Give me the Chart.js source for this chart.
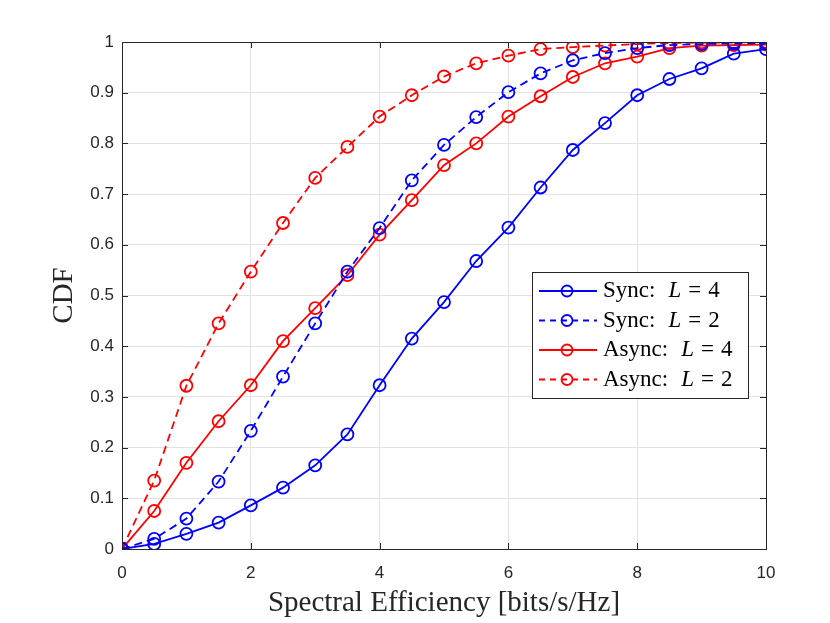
<!DOCTYPE html>
<html lang="en">
<head>
    <meta charset="UTF-8">
    <title>CDF of Spectral Efficiency</title>
    <script src="https://cdn.jsdelivr.net/npm/chart.js"></script>
    <style>
        html, body { margin: 0; padding: 0; background: #fff; }
        #chart { display: block; }
    </style>
</head>
<body>
    <canvas id="chart" width="830" height="623"></canvas>
    <script>
        // x positions (bits/s/Hz)
        const efficiency = [0, 0.5, 1, 1.5, 2, 2.5, 3, 3.5, 4, 4.5, 5, 5.5, 6, 6.5, 7, 7.5, 8, 8.5, 9, 9.5, 10];

        // CDF values
        const syncL4  = [0, 0.010, 0.030, 0.052, 0.086, 0.121, 0.165, 0.226, 0.323, 0.415, 0.487, 0.568, 0.634, 0.713, 0.787, 0.840, 0.895, 0.927, 0.948, 0.977, 0.986];
        const syncL2  = [0, 0.020, 0.060, 0.133, 0.233, 0.340, 0.445, 0.547, 0.633, 0.727, 0.797, 0.852, 0.901, 0.938, 0.964, 0.978, 0.988, 0.994, 0.996, 0.997, 0.998];
        const asyncL4 = [0, 0.075, 0.170, 0.252, 0.323, 0.410, 0.475, 0.540, 0.620, 0.688, 0.757, 0.800, 0.853, 0.893, 0.931, 0.958, 0.971, 0.988, 0.993, 0.994, 0.995];
        const asyncL2 = [0, 0.135, 0.322, 0.445, 0.547, 0.643, 0.732, 0.793, 0.853, 0.895, 0.932, 0.958, 0.973, 0.986, 0.990, 0.993, 0.996, 0.998, 0.999, 0.999, 1.000];

        const seriesNames = ['Sync:', 'Sync:', 'Async:', 'Async:'];
        const seriesL = ['4', '2', '4', '2'];

        const xTicks = [0, 2, 4, 6, 8, 10];
        const yTicks = [0, 0.1, 0.2, 0.3, 0.4, 0.5, 0.6, 0.7, 0.8, 0.9, 1];

        const tickFont = '"Liberation Sans", Arial, sans-serif';
        const serifFont = '"Liberation Serif", "Times New Roman", serif';

        function makeSet(values, color, dashed) {
            return {
                data: values.map((v, i) => ({ x: efficiency[i], y: v })),
                borderColor: color,
                backgroundColor: 'rgba(0,0,0,0)',
                borderWidth: 1.8,
                borderDash: dashed ? [8, 5] : [],
                pointStyle: 'circle',
                pointRadius: 6,
                pointBorderWidth: 1.8,
                pointBorderColor: color,
                pointBackgroundColor: 'rgba(0,0,0,0)',
                fill: false,
                tension: 0
            };
        }

        // inward tick marks on all four sides plus the axes box (MATLAB style)
        const boxTicks = {
            id: 'boxTicks',
            afterDatasetsDraw(chart) {
                const { ctx, chartArea: a, scales } = chart;
                ctx.save();
                ctx.strokeStyle = '#262626';
                ctx.lineWidth = 1;
                ctx.beginPath();
                xTicks.forEach(t => {
                    const px = Math.round(scales.x.getPixelForValue(t)) + 0.5;
                    ctx.moveTo(px, a.bottom); ctx.lineTo(px, a.bottom - 6);
                    ctx.moveTo(px, a.top); ctx.lineTo(px, a.top + 6);
                });
                yTicks.forEach(t => {
                    const py = Math.round(scales.y.getPixelForValue(t)) + 0.5;
                    ctx.moveTo(a.left, py); ctx.lineTo(a.left + 6, py);
                    ctx.moveTo(a.right, py); ctx.lineTo(a.right - 6, py);
                });
                ctx.stroke();
                ctx.strokeRect(Math.round(a.left) + 0.5, Math.round(a.top) + 0.5,
                    Math.round(a.right - a.left), Math.round(a.bottom - a.top));
                ctx.restore();
            }
        };

        // legend box drawn inside the axes, right middle
        const innerLegend = {
            id: 'innerLegend',
            afterDraw(chart) {
                const { ctx } = chart;
                const left = 532, top = 272, width = 216, height = 126, rowH = 29.5;
                ctx.save();
                ctx.fillStyle = '#fff';
                ctx.fillRect(left, top, width, height);
                ctx.strokeStyle = '#262626';
                ctx.lineWidth = 1;
                ctx.strokeRect(left + 0.5, top + 0.5, width, height);
                chart.data.datasets.forEach((ds, i) => {
                    const y = top + 19 + i * rowH;
                    ctx.strokeStyle = ds.borderColor;
                    ctx.lineWidth = 1.8;
                    ctx.setLineDash(ds.borderDash.length ? [6, 5] : []);
                    ctx.beginPath();
                    ctx.moveTo(left + 7, y);
                    ctx.lineTo(left + 65, y);
                    ctx.stroke();
                    ctx.setLineDash([]);
                    ctx.beginPath();
                    ctx.arc(left + 35, y, 5.5, 0, Math.PI * 2);
                    ctx.stroke();

                    ctx.fillStyle = '#000';
                    ctx.textBaseline = 'middle';
                    ctx.textAlign = 'left';
                    ctx.font = '23px ' + serifFont;
                    let tx = left + 71;
                    ctx.fillText(seriesNames[i], tx, y);
                    tx += ctx.measureText(seriesNames[i]).width + 13;
                    ctx.font = 'italic 23px ' + serifFont;
                    ctx.fillText('L', tx, y);
                    tx += ctx.measureText('L').width + 7;
                    ctx.font = '23px ' + serifFont;
                    ctx.fillText('=', tx, y);
                    tx += ctx.measureText('=').width + 7;
                    ctx.fillText(seriesL[i], tx, y);
                });
                ctx.restore();
            }
        };

        new Chart(document.getElementById('chart'), {
            type: 'line',
            data: {
                datasets: [
                    makeSet(syncL4, '#0000ff', false),
                    makeSet(syncL2, '#0000ff', true),
                    makeSet(asyncL4, '#ff0000', false),
                    makeSet(asyncL2, '#ff0000', true)
                ]
            },
            options: {
                responsive: false,
                animation: false,
                layout: { padding: { top: 42, right: 64, left: 0, bottom: 0 } },
                plugins: {
                    legend: { display: false },
                    tooltip: { enabled: false }
                },
                scales: {
                    x: {
                        type: 'linear',
                        min: 0,
                        max: 10,
                        afterBuildTicks: s => { s.ticks = xTicks.map(v => ({ value: v })); },
                        afterFit: s => { s.height = 74; },
                        grid: { color: '#e3e3e3', drawTicks: false, lineWidth: 1 },
                        border: { display: false },
                        ticks: {
                            color: '#262626',
                            padding: 14,
                            font: { family: tickFont, size: 17 },
                            maxRotation: 0
                        },
                        title: {
                            display: true,
                            text: 'Spectral Efficiency [bits/s/Hz]',
                            color: '#262626',
                            font: { family: serifFont, size: 29 },
                            padding: { top: 0, bottom: 2 }
                        }
                    },
                    y: {
                        type: 'linear',
                        min: 0,
                        max: 1,
                        afterBuildTicks: s => { s.ticks = yTicks.map(v => ({ value: v })); },
                        afterFit: s => { s.width = 122; },
                        grid: { color: '#e3e3e3', drawTicks: false, lineWidth: 1 },
                        border: { display: false },
                        ticks: {
                            color: '#262626',
                            padding: 8,
                            font: { family: tickFont, size: 17 },
                            callback: v => (v === 0 || v === 1) ? String(v) : v.toFixed(1)
                        },
                        title: {
                            display: true,
                            text: 'CDF',
                            color: '#262626',
                            font: { family: serifFont, size: 29 },
                            padding: { top: 47, bottom: 0 }
                        }
                    }
                }
            },
            plugins: [boxTicks, innerLegend]
        });
    </script>
</body>
</html>
